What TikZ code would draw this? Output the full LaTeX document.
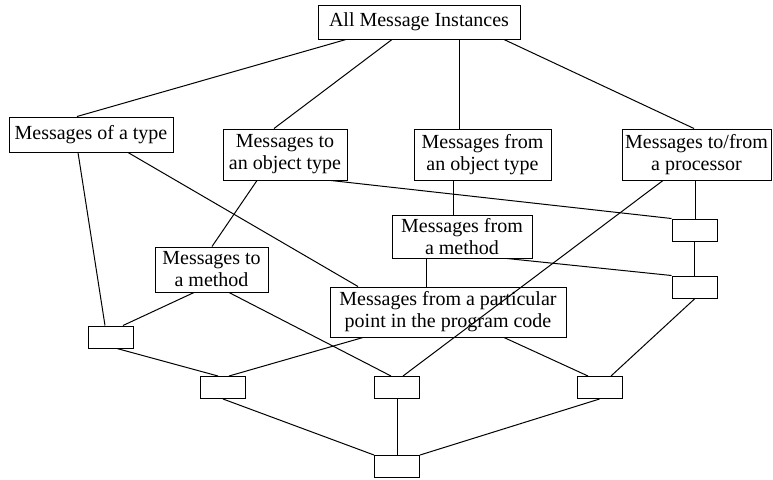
\documentclass[tikz,border=0pt]{standalone}
\usepackage{fontspec}
\setmainfont{Liberation Serif}

\tikzstyle{every node}=[draw, align=center, inner sep=0pt,
                        font=\fontsize{10}{11}\selectfont]
\tikzstyle{meet}=[minimum width=22.5pt, minimum height=11pt]

\begin{document}
\begin{tikzpicture}[x=0.5pt,y=-0.5pt,line width=0.5pt]
    \useasboundingbox (0,0) rectangle (773,479);
    % the named sets of messages
    \node[minimum width=101pt, minimum height=17pt] (all) at (419,22) {All Message Instances};
    \node[minimum width=82pt, minimum height=17.5pt] (type) at (91,134.5) {Messages of a type};
    \node[minimum width=62pt, minimum height=25.5pt] (toobj) at (285,154.5) {Messages to\\an object type};
    \node[minimum width=68.5pt, minimum height=25.5pt] (fromobj) at (482.5,154.5) {Messages from\\an object type};
    \node[minimum width=74.5pt, minimum height=25.5pt] (proc) at (696.5,154.5) {Messages to/from\\a processor};
    \node[minimum width=70pt, minimum height=21.5pt] (frommeth) at (462,236.5) {Messages from\\a method};
    \node[minimum width=56.5pt, minimum height=22.5pt] (tometh) at (211.5,269.5) {Messages to\\a method};
    \node[minimum width=118pt, minimum height=25pt] (point) at (448,312) {Messages from a particular\\point in the program code};
    % the unnamed meets
    \node[meet] (jl) at (110.5,337) {};
    \node[meet] (jr1) at (694.5,230) {};
    \node[meet] (jr2) at (694.5,287) {};
    \node[meet] (ja) at (223,387.5) {};
    \node[meet] (jb) at (397,387.5) {};
    \node[meet] (jc) at (599.5,387.5) {};
    \node[meet] (jbot) at (397,466.5) {};
    % edges, top to bottom
    \draw (all.south -| 346,0) -- (type.north -| 77,0);
    \draw (all.south -| 392,0) -- (toobj.north -| 274,0);
    \draw (all.south -| 459,0) -- (fromobj.north -| 459,0);
    \draw (all.south -| 504,0) -- (proc.north -| 694,0);
    \draw (type.south -| 78,0) -- (jl.north -| 105,0);
    \draw (type.south -| 128,0) -- (point.north -| 358,0);
    \draw (toobj.south -| 331,0) -- (jr1.north west);
    \draw (toobj.south -| 257,0) -- (tometh.north -| 212,0);
    \draw (fromobj.south -| 453,0) -- (frommeth.north -| 453,0);
    \draw (proc.south -| 695,0) -- (jr1.north -| 695,0);
    \draw (proc.south -| 663,0) -- (jb.north -| 403,0);
    \draw (frommeth.south -| 426,0) -- (point.north -| 426,0);
    \draw (frommeth.south -| 507,0) -- (jr2.north west);
    \draw (jr1) -- (jr2);
    \draw (jr2.south -| 695,0) -- (jc.north -| 611,0);
    \draw (point.south -| 504,0) -- (jc.north -| 588,0);
    \draw (point.south -| 363,0) -- (ja.north -| 229,0);
    \draw (tometh.south -| 194,0) -- (jl.north -| 123,0);
    \draw (tometh.south -| 229,0) -- (jb.north -| 391,0);
    \draw (jl.south -| 117,0) -- (ja.north -| 218,0);
    \draw (ja.south) -- (jbot.north west);
    \draw (jb) -- (jbot);
    \draw (jc.south) -- (jbot.north east);
\end{tikzpicture}
\end{document}
